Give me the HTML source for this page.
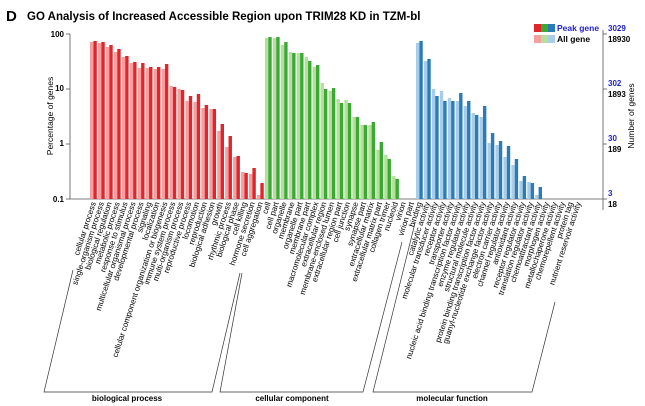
<!DOCTYPE html>
<html><head><meta charset="utf-8"><style>
html,body{margin:0;padding:0;background:#fff;width:645px;height:406px;overflow:hidden}
svg{display:block;font-family:"Liberation Sans",Arial,sans-serif}
</style></head><body>
<svg id="s" width="645" height="406" viewBox="0 0 645 406" xmlns="http://www.w3.org/2000/svg">
<text x="6" y="21" font-size="15" font-weight="bold">D</text>
<text x="27" y="20" font-size="11.5" font-weight="bold">GO Analysis of Increased Accessible Region upon TRIM28 KD in TZM-bl</text>
<line x1="70" y1="34" x2="70" y2="199" stroke="#555" stroke-width="0.8"/>
<line x1="70" y1="199" x2="603" y2="199" stroke="#555" stroke-width="0.8"/>
<line x1="603" y1="30" x2="603" y2="210" stroke="#555" stroke-width="0.8"/>
<g font-size="8" text-anchor="end" font-weight="bold">
<text x="64" y="37">100</text><text x="64" y="91">10</text><text x="64" y="146">1</text><text x="64" y="202">0.1</text>
</g>
<g stroke="#555" stroke-width="0.8">
<line x1="66" y1="34" x2="70" y2="34"/><line x1="66" y1="89" x2="70" y2="89"/><line x1="66" y1="144" x2="70" y2="144"/><line x1="66" y1="199" x2="70" y2="199"/>
<line x1="603" y1="34" x2="607" y2="34"/><line x1="603" y1="89" x2="607" y2="89"/><line x1="603" y1="144" x2="607" y2="144"/><line x1="603" y1="199" x2="607" y2="199"/>
</g>
<text transform="translate(53,116) rotate(-90)" font-size="8.5" text-anchor="middle">Percentage of genes</text>
<text transform="translate(634,116) rotate(-90)" font-size="8.5" text-anchor="middle">Number of genes</text>
<g font-size="8" font-weight="bold">
<text x="608" y="31" fill="#2222cc">3029</text><text x="608" y="42">18930</text>
<text x="608" y="86" fill="#2222cc">302</text><text x="608" y="97">1893</text>
<text x="608" y="141" fill="#2222cc">30</text><text x="608" y="152">189</text>
<text x="608" y="196" fill="#2222cc">3</text><text x="608" y="207">18</text>
</g>
<rect x="534" y="24" width="7" height="8" fill="#e0262b"/><rect x="541" y="24" width="7" height="8" fill="#3aaa35"/><rect x="548" y="24" width="7" height="8" fill="#2b7bba"/>
<rect x="534" y="35" width="7" height="8" fill="#f4a0a0"/><rect x="541" y="35" width="7" height="8" fill="#b5df9a"/><rect x="548" y="35" width="7" height="8" fill="#a8cde6"/>
<text x="557" y="31" font-size="8.5" font-weight="bold" fill="#2222cc">Peak gene</text>
<text x="557" y="42" font-size="8.5" font-weight="bold">All gene</text>
<g id="bars"></g>
<g id="labs" font-size="8"></g>
<g fill="none" stroke="#333" stroke-width="0.7">
<polyline points="73,270 44,392 212,392 240,273"/>
<polyline points="242,273 220,392 363,392 402,242"/>
<polyline points="415,223 373,392 532,392 555,302"/>
</g>
<g font-size="8" font-weight="bold" text-anchor="middle">
<text x="127" y="401">biological process</text>
<text x="292" y="401">cellular component</text>
<text x="452" y="401">molecular function</text>
</g>
</svg>
<script>
var red=[[42,41],[43,42],[47,45],[52,49],[57,56],[63,62],[68,63],[68,67],[69,67],[69,64],[86,87],[89,90],[101,96],[102,94],[108,105],[109,109],[131,124],[147,136],[157,156],[172,173],[174,168],[195,183]];
var green=[[38,37],[38,37],[45,42],[52,53],[53,53],[57,61],[67,65],[83,89],[91,88],[99,103],[100,103],[117,117],[125,125],[125,122],[150,142],[155,159],[176,179],null,null];
var blue=[[43,41],[61,59],[89,96],[91,101],[98,101],[101,93],[106,101],[113,115],[117,106],[143,133],[145,141],[157,146],[165,159],[181,176],[182,183],[195,187],null,null,null,null,null];
var labels=["cellular process","single-organism process","biological regulation","metabolic process","response to stimulus","multicellular organismal process","developmental process","signaling","localization","cellular component organization or biogenesis","immune system process","multi-organism process","reproductive process","locomotion","reproduction","biological adhesion","growth","rhythmic process","biological phase","cell killing","hormone secretion","cell aggregation",
"cell","cell part","organelle","membrane","organelle part","membrane part","macromolecular complex","extracellular region","membrane-enclosed lumen","extracellular region part","cell junction","synapse","synapse part","extracellular matrix","extracellular matrix part","collagen trimer","nucleoid","virion","virion part",
"binding","catalytic activity","molecular transducer activity","receptor activity","transporter activity","nucleic acid binding transcription factor activity","enzyme regulator activity","structural molecule activity","protein binding transcription factor activity","guanyl-nucleotide exchange factor activity","electron carrier activity","channel regulator activity","antioxidant activity","receptor regulator activity","translation regulator activity","chemoattractant activity","morphogen activity","metallochaperone activity","chemorepellent activity","protein tag","nutrient reservoir activity"];
var ns="http://www.w3.org/2000/svg",B=document.getElementById("bars"),L=document.getElementById("labs");
var groups=[[red,"#f4a0a0","#e0262b"],[green,"#b5df9a","#3aaa35"],[blue,"#a8cde6","#2b7bba"]];
var i=0,w=7.95,x0=90;
groups.forEach(function(g){g[0].forEach(function(v){var x=x0+i*w;
 if(v){[[v[0],g[1],0],[v[1],g[2],3.4]].forEach(function(b){var r=document.createElementNS(ns,"rect");
  r.setAttribute("x",x+b[2]);r.setAttribute("y",b[0]);r.setAttribute("width",3.4);r.setAttribute("height",199-b[0]);r.setAttribute("fill",b[1]);B.appendChild(r);});}
 i++;});});
labels.forEach(function(t,k){var x=x0+k*w+6,y=203;var e=document.createElementNS(ns,"text");
 e.setAttribute("text-anchor","end");e.setAttribute("transform","translate("+x+","+y+") rotate(-72)");e.textContent=t;L.appendChild(e);});
</script>
</body></html>
